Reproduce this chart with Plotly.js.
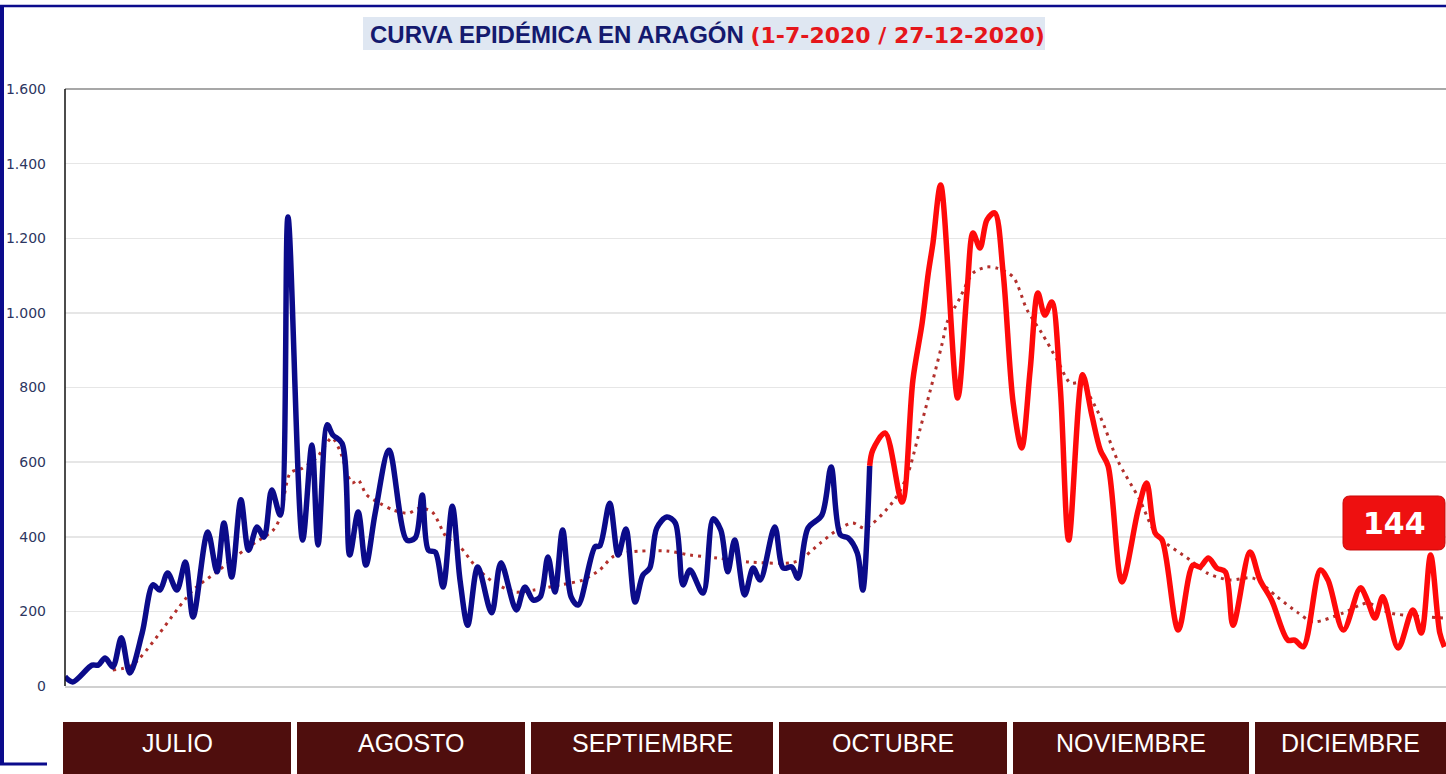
<!DOCTYPE html>
<html><head><meta charset="utf-8">
<script src="https://cdn.plot.ly/plotly-3.0.1.min.js"></script>
<style>html,body{margin:0;padding:0;background:#fff;overflow:hidden}#chart{width:1446px;height:774px}</style>
</head><body><div id="chart"></div>
<script>
// ---- DATA (day 0 = 1-7-2020) ----
const blueDay = [0,1.0,3.5,4.3,5.2,6.2,7.3,8.4,10.0,11.4,12.3,13.3,14.5,15.6,16.6,18.5,19.7,20.6,21.6,22.8,23.8,24.9,25.8,26.8,27.9,28.9,30.8,32.0,32.8,34.0,34.7,35.9,36.9,38.0,39.0,40.2,42.0,44.3,45.4,46.3,47.1,48.0,49.0,50.2,51.2,52.2,53.5,55.3,56.5,58.5,59.6,60.7,61.6,62.6,63.5,64.5,65.6,66.5,68.7,69.3,70.6,71.7,72.7,73.9,74.9,75.8,76.7,78.0,79.1,80.1,81.0,82.7,84.0,85.0,85.9,86.8,88.1,89.2,90.1,92.0,93.1,94.2,95.0,96.3,98.1,99.3,100.5,101.5,102.7,103.4,104.3];
const blueVal = [25,11,56,56,75,51,129,35,142,271,257,303,257,332,185,413,306,437,292,499,364,426,399,525,458,1257,391,646,378,700,673,651,351,466,324,463,632,391,397,512,364,359,265,482,284,163,319,196,330,204,265,230,239,346,252,418,239,217,373,375,490,351,421,225,297,316,423,453,437,271,311,249,448,418,306,391,244,316,284,426,316,319,289,423,458,587,405,397,356,257,590];
const redDay = [104.3,104.7,106.3,108.5,109.9,111.1,111.9,112.5,113.5,115.7,116.9,117.7,118.6,119.5,120.5,121.6,122.9,124.0,125.1,126.1,127.0,127.9,129.0,130.1,131.9,133.1,134.2,135.2,137.0,139.1,140.2,141.3,142.2,144.3,146.2,147.1,148.2,149.3,150.4,151.4,153.6,154.9,156.4,158.5,159.4,160.5,162.7,163.7,165.7,167.9,168.8,169.8,170.8,172.8,174.7,175.8,177.0,178.2,178.8];
const redVal = [590,632,678,493,820,973,1107,1187,1343,772,1053,1214,1174,1249,1268,1107,758,638,847,1053,994,1029,801,391,834,725,632,590,279,472,544,410,391,150,324,319,343,316,306,163,359,284,230,123,123,105,311,284,150,263,230,182,239,102,204,142,351,142,105];
const maDay = [6.2,8.7,16.6,19.7,23.6,27.0,27.9,29.2,30.8,32.7,34.6,35.6,37.2,38.0,39.1,40.8,42.5,44.5,46.0,47.6,49.5,51.2,53.4,55.5,58.3,60.7,64.2,67.1,69.3,71.0,73.2,78.0,81.0,84.5,88.8,94.0,95.3,97.9,100.1,102.1,103.7,107.3,109.1,110.8,112.5,113.8,114.3,116.0,117.7,119.5,120.8,122.9,124.7,126.6,128.6,130.3,131.6,134.2,136.4,139.3,141.5,145.8,148.0,151.0,154.0,157.1,159.7,161.8,165.7,168.8,171.7,179.0];
const maVal = [43,56,257,306,370,418,453,571,584,614,665,632,544,552,512,490,472,463,477,466,397,373,316,279,252,257,271,284,311,346,359,362,351,343,332,330,338,383,418,437,423,493,560,686,820,927,973,1040,1107,1123,1120,1096,1008,946,874,812,812,721,606,499,405,338,303,284,289,239,198,172,196,222,196,182];
const yTicks = [0,200,400,600,800,1000,1200,1400,1600];
const months = ['JULIO','AGOSTO','SEPTIEMBRE','OCTUBRE','NOVIEMBRE','DICIEMBRE'];
const titleMain = 'CURVA EPIDÉMICA EN ARAGÓN';
const titleDates = '(1-7-2020 / 27-12-2020)';
const lastLabel = '144';

// ---- layout helpers (pixel -> paper) ----
const L=65, R=1446, T=89, B=686, W=R-L, H=B-T;
const px = v => (v-L)/W;
const py = v => (B-v)/H;

const monthBoxes = [[63,291],[297,525],[531,773],[779,1007],[1013,1249],[1255,1446]];

const shapes = [];
const annotations = [];
// frame
shapes.push({type:'line',xref:'paper',yref:'paper',x0:px(2),x1:px(2),y0:py(765),y1:py(5),line:{color:'#0b0b8c',width:4}});
shapes.push({type:'line',xref:'paper',yref:'paper',x0:px(0),x1:px(1446),y0:py(6),y1:py(6),line:{color:'#0b0b8c',width:2.5}});
shapes.push({type:'line',xref:'paper',yref:'paper',x0:px(0),x1:px(47),y0:py(764),y1:py(764),line:{color:'#0b0b8c',width:3}});
// plot top border & left axis
shapes.push({type:'line',xref:'paper',yref:'paper',x0:0,x1:1,y0:1,y1:1,line:{color:'#8a8a8a',width:1.5}});
shapes.push({type:'line',xref:'paper',yref:'paper',x0:0,x1:0,y0:0,y1:1,line:{color:'#111',width:1.5}});
// title box
shapes.push({type:'rect',xref:'paper',yref:'paper',x0:px(363),x1:px(1045),y0:py(50),y1:py(17),fillcolor:'#dfe7f2',line:{width:0},layer:'below'});
annotations.push({xref:'paper',yref:'paper',x:px(368),y:py(34),xanchor:'left',yanchor:'middle',showarrow:false,
  text:'<span style="color:#141a6e">'+titleMain+'</span> <span style="color:#e5161b;font-family:\'DejaVu Sans\';font-size:22px">'+titleDates+'</span>',
  font:{family:'Liberation Sans, Arial, sans-serif',size:24,weight:'bold'}});
// month boxes
months.forEach((m,i)=>{
  const [a,b]=monthBoxes[i];
  shapes.push({type:'rect',xref:'paper',yref:'paper',x0:px(a),x1:px(b),y0:py(774),y1:py(722),fillcolor:'#4f0e0d',line:{width:0}});
  annotations.push({xref:'paper',yref:'paper',x:px((a+b)/2),y:py(743),xanchor:'center',yanchor:'middle',showarrow:false,
    text:m,font:{family:'Liberation Sans, Arial, sans-serif',size:25,color:'#ffffff'}});
});
// badge (rounded rect)
(function(){
  const x0=1343,x1=1445,y0=496,y1=550,r=7;
  const X=v=>px(v).toFixed(5), Y=v=>py(v).toFixed(5);
  const path=`M ${X(x0+r)},${Y(y0)} L ${X(x1-r)},${Y(y0)} Q ${X(x1)},${Y(y0)} ${X(x1)},${Y(y0+r)} L ${X(x1)},${Y(y1-r)} Q ${X(x1)},${Y(y1)} ${X(x1-r)},${Y(y1)} L ${X(x0+r)},${Y(y1)} Q ${X(x0)},${Y(y1)} ${X(x0)},${Y(y1-r)} L ${X(x0)},${Y(y0+r)} Q ${X(x0)},${Y(y0)} ${X(x0+r)},${Y(y0)} Z`;
  shapes.push({type:'path',xref:'paper',yref:'paper',path:path,fillcolor:'#ee1010',line:{color:'#c80a0a',width:1}});
  annotations.push({xref:'paper',yref:'paper',x:px((x0+x1)/2),y:py((y0+y1)/2),xanchor:'center',yanchor:'middle',showarrow:false,
    text:'<b>'+lastLabel+'</b>',font:{family:'DejaVu Sans, Verdana, sans-serif',size:30,color:'#ffffff'}});
})();

const traces = [
  {x:maDay,y:maVal,type:'scatter',mode:'lines',line:{color:'#b3302c',width:3,dash:'3px,5px',shape:'spline',smoothing:0.8},hoverinfo:'skip'},
  {x:blueDay,y:blueVal,type:'scatter',mode:'lines',line:{color:'#0b0b8a',width:5.5,shape:'spline',smoothing:0.9},hoverinfo:'skip'},
  {x:redDay,y:redVal,type:'scatter',mode:'lines',line:{color:'#ff0a0a',width:5.5,shape:'spline',smoothing:0.9},hoverinfo:'skip'}
];

const layout = {
  width:1446,height:774,
  margin:{l:L,r:1446-R,t:T,b:774-B,pad:0},
  paper_bgcolor:'#ffffff',plot_bgcolor:'#ffffff',
  showlegend:false,
  separators:',.',
  xaxis:{range:[0,179],showgrid:false,zeroline:false,showticklabels:false,ticks:'',showline:true,linecolor:'#d0d0d0',linewidth:1.5,fixedrange:true},
  yaxis:{range:[0,1600],tickvals:yTicks,tickformat:',d',showgrid:true,gridcolor:'#e6e6e6',gridwidth:1.5,zeroline:false,ticks:'',
    ticklabelstandoff:18,tickfont:{family:'DejaVu Sans, Verdana, sans-serif',size:14,color:'#2d3661'},showline:false,fixedrange:true},
  shapes:shapes,
  annotations:annotations
};
Plotly.newPlot('chart',traces,layout,{displayModeBar:false,staticPlot:true});
</script>
</body></html>
